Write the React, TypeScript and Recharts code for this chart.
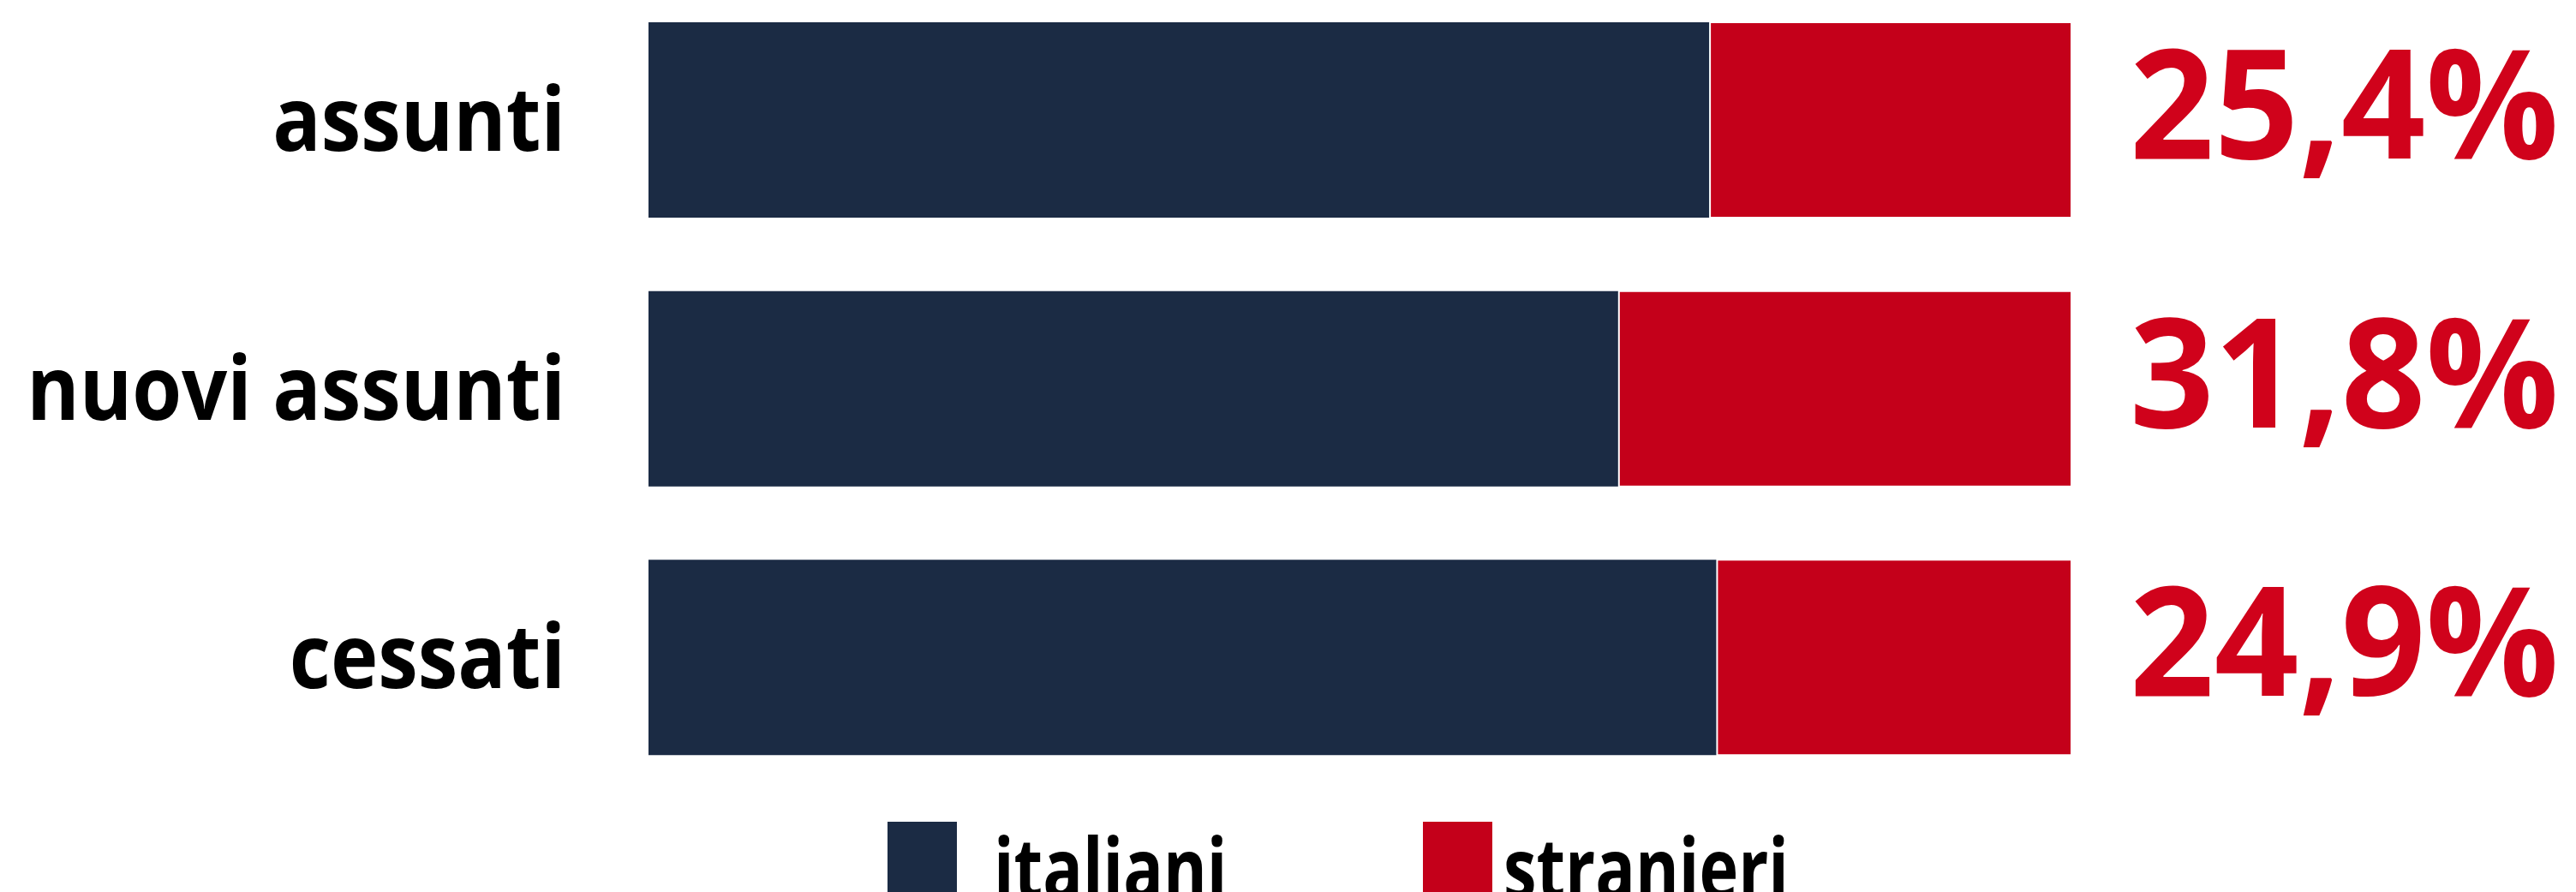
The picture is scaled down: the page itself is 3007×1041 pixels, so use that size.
import React from "react";
import { Bar, BarChart, LabelList, Legend, XAxis, YAxis } from "recharts";

const categories = ["assunti", "nuovi assunti", "cessati"];
const italiani = [74.6, 68.2, 75.1];
const stranieri = [25.4, 31.8, 24.9];
const seriesNames = ["italiani", "stranieri"];

const NAVY = "#1b2b44";
const RED = "#c4001a";
const RED_TEXT = "#d0021b";
const FONT = "'Open Sans', 'DejaVu Sans', sans-serif";

const data = categories.map((name, i) => ({
  name,
  italiani: italiani[i],
  stranieri: stranieri[i],
}));

const CategoryTick = ({ x, y, payload }: any) => (
  <g transform={`translate(${x - 97},${y + 36}) scale(0.9,1)`}>
    <text
      x={0}
      y={0}
      textAnchor="end"
      fill="#000"
      fontFamily={FONT}
      fontWeight={700}
      fontSize={104}
    >
      {payload.value}
    </text>
  </g>
);

const PercentLabel = ({ x, y, width, height, value }: any) => (
  <g transform={`translate(${x + width + 68},${y + height / 2 + 45}) scale(0.97,1)`}>
    <text
      x={0}
      y={0}
      fill={RED_TEXT}
      fontFamily={FONT}
      fontWeight={700}
      fontSize={178}
    >
      {Number(value).toFixed(1).replace(".", ",") + "%"}
    </text>
  </g>
);

const legendPos: Record<string, { box: number; text: number }> = {
  italiani: { box: 1036, text: 1160 },
  stranieri: { box: 1661, text: 1755 },
};

const LegendContent = ({ payload }: any) => (
  <svg width={3007} height={1041} style={{ display: "block" }}>
    {(payload || []).map((p: any) => {
      const pos = legendPos[p.value];
      return (
        <g key={p.value}>
          <rect x={pos.box} y={959} width={81} height={100} fill={p.color} />
          <g transform={`translate(${pos.text},1049) scale(0.79,1)`}>
            <text
              x={0}
              y={0}
              fill="#000"
              fontFamily={FONT}
              fontWeight={700}
              fontSize={98}
            >
              {p.value}
            </text>
          </g>
        </g>
      );
    })}
  </svg>
);

export default function App() {
  return (
    <div style={{ width: 3007, height: 1041, overflow: "hidden", background: "#fff" }}>
      <style>{"body{margin:0}"}</style>
      <BarChart
        width={3007}
        height={1041}
        data={data}
        layout="vertical"
        barCategoryGap={85}
        margin={{ top: -17, right: 589, bottom: 117, left: 0 }}
      >
        <XAxis type="number" domain={[0, 100]} hide />
        <YAxis
          type="category"
          dataKey="name"
          width={757}
          axisLine={false}
          tickLine={false}
          tickSize={0}
          tickMargin={0}
          tick={<CategoryTick />}
        />
        <Legend
          layout="horizontal"
          verticalAlign="middle"
          align="center"
          content={<LegendContent />}
          wrapperStyle={{ top: 0, left: 0, width: 3007, height: 1041, pointerEvents: "none" }}
          payload={[
            { value: seriesNames[0], type: "square", color: NAVY },
            { value: seriesNames[1], type: "square", color: "#d0021b" },
          ]}
        />
        <Bar
          dataKey="italiani"
          stackId="a"
          fill={NAVY}
          barSize={228}
          isAnimationActive={false}
        />
        <Bar
          dataKey="stranieri"
          stackId="a"
          fill={RED}
          stroke="#fff"
          strokeWidth={2}
          barSize={228}
          isAnimationActive={false}
        >
          <LabelList dataKey="stranieri" content={<PercentLabel />} />
        </Bar>
      </BarChart>
    </div>
  );
}
